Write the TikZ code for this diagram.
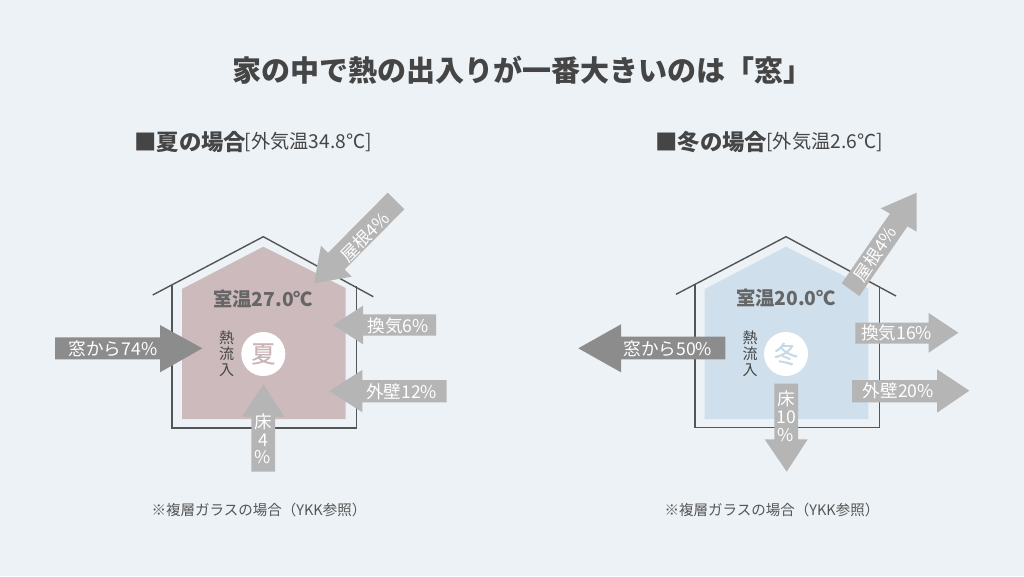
\documentclass[tikz,border=0pt]{standalone}
\usepackage{fontspec}
\setmainfont{Noto Sans CJK JP}
\usetikzlibrary{calc}
\definecolor{bgc}{HTML}{EDF2F6}
\definecolor{pinkc}{HTML}{CDBABD}
\definecolor{bluec}{HTML}{CFDFEB}
\definecolor{darka}{HTML}{8C8C8C}
\definecolor{lighta}{HTML}{B5B5B5}
\definecolor{wallc}{HTML}{555555}
\definecolor{txtc}{HTML}{454545}
\definecolor{summerc}{HTML}{C9B3B7}
\definecolor{winterc}{HTML}{C5D8E6}
\newcommand{\fz}[1]{\fontsize{#1}{#1}\selectfont}
\newcommand{\lite}{\addfontfeature{FakeBold=0.2}}
\tikzset{
  x=1pt,y=-1pt,
  wall/.style={draw=wallc,line width=1.4pt,line join=miter},
  darkarrow/.style={fill=darka},
  lightarrow/.style={fill=lighta},
  lab/.style={text=white,font=\fz{17.6},inner sep=0pt},
  temp/.style={text=wallc!90!white,font=\fz{19.3}\bfseries,inner sep=0pt},
  heat/.style={text=txtc,font=\fz{15},inner sep=0pt},
  season/.style={circle,fill=white,minimum size=44pt,inner sep=0pt,font=\fz{24}\lite},
  note/.style={text=wallc,font=\fz{14.5},inner sep=0pt},
  head/.style={text=txtc,font=\fz{22.4}\bfseries,inner sep=0pt},
  subhead/.style={text=txtc,font=\fz{19.2},inner sep=0pt},
  maintitle/.style={text=txtc,font=\fz{29}\bfseries,inner sep=0pt},
}
\begin{document}
\begin{tikzpicture}
\useasboundingbox (0,0) rectangle (1024,576);
\fill[bgc] (0,0) rectangle (1024,576);
\node[maintitle] (title) at (522,70) {家の中で熱の出入りが一番大きいのは「窓」};
% headings
\node[head,anchor=west] (shead) at (134,142) {■夏の場合};
\node[subhead,anchor=east] (ssub) at (372,142) {[外気温34.8℃]};
\node[head,anchor=west] (whead) at (655,142) {■冬の場合};
\node[subhead,anchor=east] (wsub) at (883,142) {[外気温2.6℃]};
% summer house
\fill[pinkc] (263.3,246.7) -- (345.7,288) -- (345.7,419) -- (182,419) -- (182,289) -- cycle;
\draw[wall] (152.7,295) -- (263.3,236.7) -- (373.3,296.7);
\draw[wall] (172,285) -- (172,428) -- (356.3,428) -- (356.3,285.5);
% winter house
\fill[bluec] (786,246.7) -- (868.3,288.3) -- (868.3,419) -- (704.7,419) -- (704.7,289) -- cycle;
\draw[wall] (676,294.3) -- (786,236.7) -- (896,296);
\draw[wall] (695,285) -- (695,427.7) -- (879.3,427.7) -- (879.3,285.5);
% summer arrows
\fill[darkarrow] (55,337.3) -- (160,337.3) -- (160,325) -- (202.3,348.3) -- (160,372.3) -- (160,359.3) -- (55,359.3) -- cycle;
\fill[lightarrow] (436,314.3) -- (363,314.3) -- (363,305.7) -- (333.3,325) -- (363,344.3) -- (363,335.7) -- (436,335.7) -- cycle;
\fill[lightarrow] (446.7,380) -- (362.3,380) -- (362.3,370) -- (329.3,391) -- (362.3,412.3) -- (362.3,402.3) -- (446.7,402.3) -- cycle;
\fill[lightarrow] (251.3,471.7) -- (251.3,416.7) -- (242,416.7) -- (263.3,384.3) -- (284.3,416.7) -- (275,416.7) -- (275,471.7) -- cycle;
\fill[lightarrow] (387.7,192.7) -- (404.3,209.3) -- (344.6,269.5) -- (351.7,276.7) -- (314,283.3) -- (321,245.7) -- (328,252.9) -- cycle;
% winter arrows
\fill[darkarrow] (725.3,336.7) -- (621,336.7) -- (621,324.3) -- (578.3,348.3) -- (621,372.3) -- (621,359.3) -- (725.3,359.3) -- cycle;
\fill[lightarrow] (855.3,322.7) -- (928.7,322.7) -- (928.7,313) -- (958.3,332.7) -- (928.7,352.7) -- (928.7,343.7) -- (855.3,343.7) -- cycle;
\fill[lightarrow] (852,380) -- (937,380) -- (937,369.3) -- (969.3,390.7) -- (937,412.7) -- (937,402.3) -- (852,402.3) -- cycle;
\fill[lightarrow] (774.3,383.7) -- (798,383.7) -- (798,439.3) -- (807.7,439.3) -- (786.7,471.7) -- (764.7,439.3) -- (774.3,439.3) -- cycle;
\fill[lightarrow] (841.7,283.3) -- (889.9,213.65) -- (880.7,208.3) -- (916.7,192.7) -- (916.7,231.7) -- (907.5,226.35) -- (859.3,296) -- cycle;
% summer labels
\node[temp] (stemp) at (263.3,299) {室温27.0℃};
\node[heat] (sh1) at (226.7,338) {熱};
\node[heat] (sh2) at (226.7,354) {流};
\node[heat] (sh3) at (226.7,370) {入};
\node[season,text=summerc] (sc) at (263.3,354) {夏};
\node[lab] (s1) at (113,349) {窓から74\%};
\node[lab] (s2) at (398,325.7) {換気6\%};
\node[lab] (s3) at (401.7,391.7) {外壁12\%};
\node[lab,rotate=45] (s4) at (365,236.7) {屋根4\%};
\node[lab] (s5a) at (263,421.7) {床};
\node[lab] (s5b) at (263,440) {4};
\node[lab] (s5c) at (263,456.7) {\%};
% winter labels
\node[temp] (wtemp) at (786,298.3) {室温20.0℃};
\node[heat] (wh1) at (750,338) {熱};
\node[heat] (wh2) at (750,354) {流};
\node[heat] (wh3) at (750,370) {入};
\node[season,text=winterc] (wc) at (786,354) {冬};
\node[lab] (w1) at (667.7,348.3) {窓から50\%};
\node[lab] (w2) at (896.7,333.3) {換気16\%};
\node[lab] (w3) at (898.3,391) {外壁20\%};
\node[lab,rotate=56] (w4) at (875,254) {屋根4\%};
\node[lab] (w5a) at (786,399.3) {床};
\node[lab] (w5b) at (786,417.3) {10};
\node[lab] (w5c) at (786,435) {\%};
% notes
\node[note] (n1) at (259,510) {※複層ガラスの場合（YKK参照）};
\node[note] (n2) at (772,510) {※複層ガラスの場合（YKK参照）};
\end{tikzpicture}
\end{document}
